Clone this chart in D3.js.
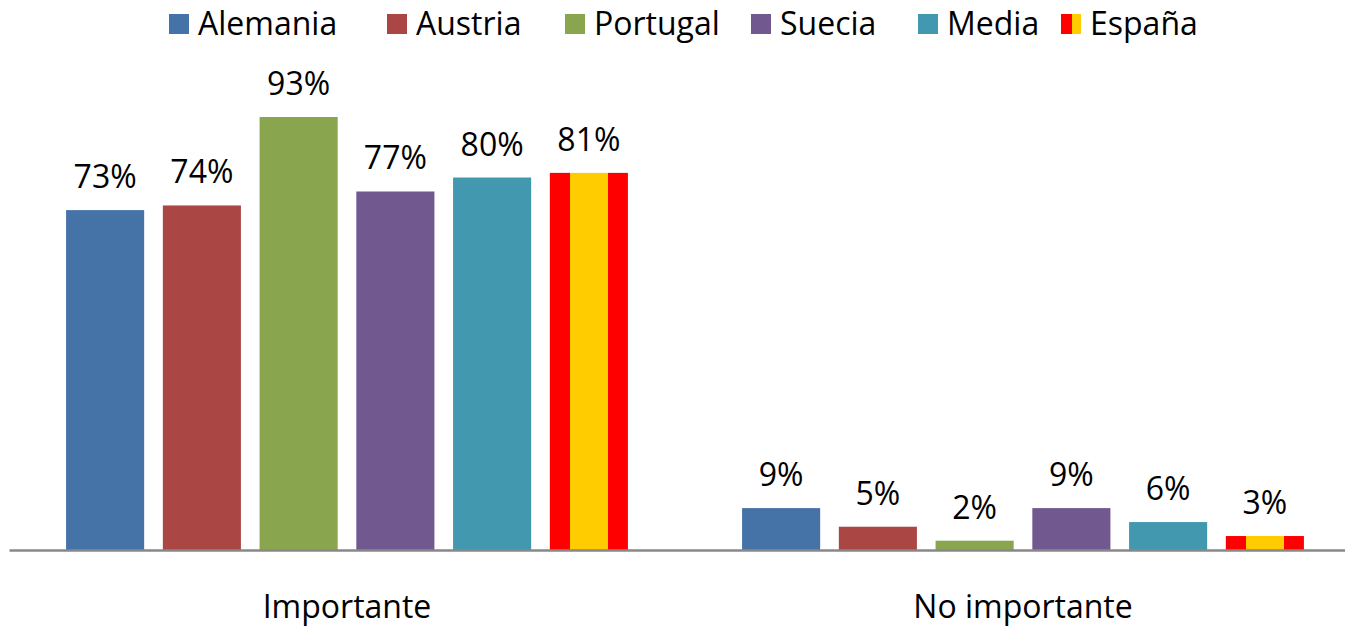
<!DOCTYPE html>
<html>
<head>
<meta charset="utf-8">
<script src="https://cdn.jsdelivr.net/npm/d3@7"></script>
<style>
  body { margin: 0; background: #fff; }
  svg text { font-family: "Open Sans", Lato, sans-serif; fill: #000; }
</style>
</head>
<body>
<div id="chart"></div>
<script>
// DATA
const categories = ["Importante", "No importante"];
const countries = ["Alemania", "Austria", "Portugal", "Suecia", "Media", "España"];
const importante = [73, 74, 93, 77, 80, 81];
const noImportante = [9, 5, 2, 9, 6, 3];
const colors = ["#4572A7", "#AA4643", "#89A54E", "#71588F", "#4198AF", "url(#spain)"];

const width = 1345;
const height = 628;
const margin = {top: 60, right: -16, bottom: 78, left: 9};
const fontSize = 32;

const svg = d3.select("#chart").append("svg")
    .attr("width", width)
    .attr("height", height);

// SPAIN FLAG FILL
const defs = svg.append("defs");
const grad = defs.append("linearGradient").attr("id", "spain")
    .attr("x1", "0%").attr("x2", "100%").attr("y1", "0%").attr("y2", "0%");
[["0%", "#ff0000"], ["26%", "#ff0000"], ["26%", "#ffcc00"], ["74%", "#ffcc00"], ["74%", "#ff0000"], ["100%", "#ff0000"]]
    .forEach(s => grad.append("stop").attr("offset", s[0]).attr("stop-color", s[1]));
const gradL = defs.append("linearGradient").attr("id", "spainLegend")
    .attr("x1", "0%").attr("x2", "100%").attr("y1", "0%").attr("y2", "0%");
[["0%", "#ff0000"], ["55%", "#ff0000"], ["55%", "#ffcc00"], ["100%", "#ffcc00"]]
    .forEach(s => gradL.append("stop").attr("offset", s[0]).attr("stop-color", s[1]));

// SCALES
const x0 = d3.scaleBand()
    .domain(categories)
    .range([margin.left, width - margin.right])
    .paddingInner(0)
    .paddingOuter(0);

const x1 = d3.scaleBand()
    .domain(countries)
    .range([0, x0.bandwidth()])
    .paddingInner(0.193)
    .paddingOuter(0.59);

const y = d3.scaleLinear()
    .domain([0, 93])
    .range([height - margin.bottom, 117]);

const series = [importante, noImportante];

// BARS
const groups = svg.selectAll(".group")
    .data(categories)
    .enter().append("g")
    .attr("class", "group")
    .attr("transform", d => "translate(" + x0(d) + ",0)");

groups.each(function (cat, ci) {
    const g = d3.select(this);
    const vals = countries.map((c, i) => ({country: c, value: series[ci][i], color: colors[i]}));

    g.selectAll("rect")
        .data(vals)
        .enter().append("rect")
        .attr("x", d => x1(d.country))
        .attr("y", d => y(d.value))
        .attr("width", x1.bandwidth())
        .attr("height", d => y(0) - y(d.value))
        .attr("fill", d => d.color);

    g.selectAll(".label")
        .data(vals)
        .enter().append("text")
        .attr("class", "label")
        .attr("text-anchor", "middle")
        .attr("x", d => x1(d.country) + x1.bandwidth() / 2)
        .attr("y", d => y(d.value) - 22)
        .style("font-size", fontSize + "px")
        .text(d => d.value + "%");
});

// AXIS
const xAxis = d3.axisBottom(x0).tickSize(0).tickPadding(45);
svg.append("g")
    .attr("class", "x axis")
    .attr("transform", "translate(0," + y(0) + ")")
    .call(xAxis)
    .call(g => g.select(".domain").attr("stroke", "#888").attr("stroke-width", 2.5))
    .call(g => g.selectAll("text").style("font-size", fontSize + "px").style("font-family", "'Open Sans', sans-serif"));

// LEGEND
const legend = svg.append("g").attr("class", "legend");
const legendXs = [169, 387, 565, 751, 918, 1061];
countries.forEach((c, i) => {
    const item = legend.append("g").attr("transform", "translate(" + legendXs[i] + ",0)");
    item.append("rect")
        .attr("x", 0).attr("y", 14)
        .attr("width", 20).attr("height", 20)
        .attr("fill", i === 5 ? "url(#spainLegend)" : colors[i]);
    item.append("text")
        .attr("x", 29).attr("y", 35)
        .style("font-size", fontSize + "px")
        .text(c);
});
</script>
</body>
</html>
